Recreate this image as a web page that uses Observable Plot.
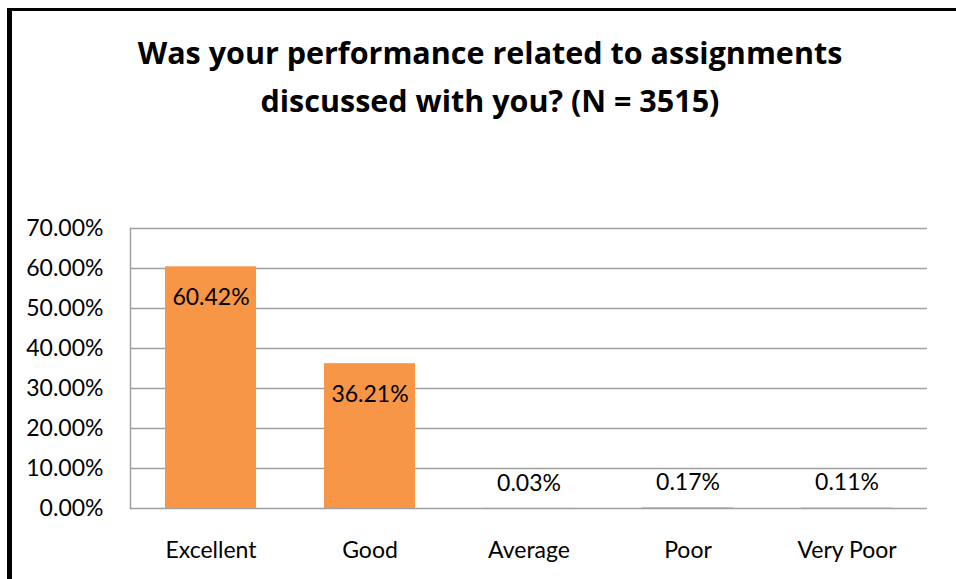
<!DOCTYPE html>
<html>
<head>
<meta charset="utf-8">
<script src="https://cdn.jsdelivr.net/npm/d3@7"></script>
<script src="https://cdn.jsdelivr.net/npm/@observablehq/plot@0.6"></script>
<style>
  body { margin: 0; background: #fff; }
  #wrap { position: relative; width: 956px; height: 579px; overflow: hidden; background: #fff; font-family: Lato, sans-serif; }
  #bl { position: absolute; left: 7px; top: 8px; width: 5px; height: 571px; background: #000; }
  #bt { position: absolute; left: 7px; top: 8px; width: 949px; height: 3px; background: #000; }
  #title { position: absolute; left: 30px; width: 920px; top: 28px; text-align: center; font-weight: bold; font-size: 30.5px; line-height: 48px; color: #000; font-family: "Open Sans", sans-serif; }
  #chart { position: absolute; left: 0; top: 0; }
</style>
</head>
<body>
<div id="wrap">
  <div id="chart"></div>
  <div id="bl"></div>
  <div id="bt"></div>
  <div id="title">Was your performance related to assignments<br>discussed with you? (N = 3515)</div>
</div>
<script>
const categories = ["Excellent", "Good", "Average", "Poor", "Very Poor"];
const values = [0.6042, 0.3621, 0.0003, 0.0017, 0.0011];
const valueLabels = ["60.42%", "36.21%", "0.03%", "0.17%", "0.11%"];
const yTicks = [0, 0.1, 0.2, 0.3, 0.4, 0.5, 0.6, 0.7];

const data = categories.map((c, i) => ({ cat: c, v: values[i], label: valueLabels[i] }));
const big = data.filter(d => d.v > 0.05);
const small = data.filter(d => d.v <= 0.05);

const chart = Plot.plot({
  width: 956,
  height: 579,
  marginLeft: 130,
  marginRight: 29,
  marginTop: 228,
  marginBottom: 71,
  style: { fontFamily: "Lato, sans-serif", fontSize: "23px", color: "#000", background: "transparent" },
  x: { domain: categories, paddingInner: 0.43, paddingOuter: 0.215, label: null },
  y: { domain: [0, 0.7], label: null },
  marks: [
    Plot.ruleY(yTicks, { stroke: "#a0a0a0", strokeWidth: 1.5 }),
    Plot.frame({ anchor: "left", stroke: "#a0a0a0", strokeWidth: 1.5 }),
    Plot.barY(data, { x: "cat", y: "v", fill: "#F79646" }),
    Plot.axisY(yTicks, { tickSize: 0, tickPadding: 27, tickFormat: d3.format(".2%"), fontSize: 23, fill: "#000", label: null }),
    Plot.axisX({ tickSize: 0, tickPadding: 33, fontSize: 23, fill: "#000", label: null }),
    Plot.text(big, { x: "cat", y: "v", text: "label", dy: 31, fontSize: 23, fill: "#000" }),
    Plot.text(small, { x: "cat", y: "v", text: "label", dy: -25, fontSize: 23, fill: "#000" })
  ]
});
document.getElementById("chart").appendChild(chart);
</script>
</body>
</html>
